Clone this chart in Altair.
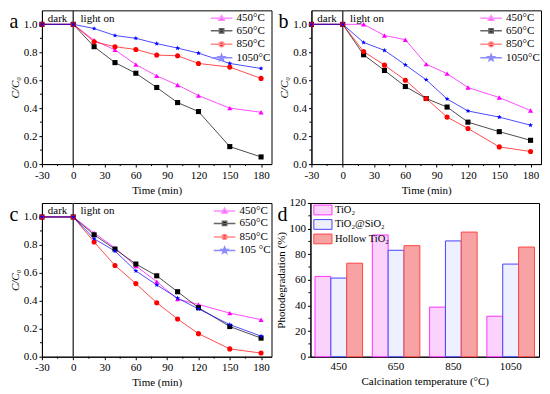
import math
import altair as alt
import pandas as pd

FONT = "Liberation Serif"

# ---------------- data ----------------
times = [-30, 0, 20, 40, 60, 80, 100, 120, 150, 180]
series_ab = ["450°C", "650°C", "850°C", "1050°C"]
series_c = ["450°C", "650°C", "850°C", "105 °C"]

a450 = [1.0, 1.0, 0.886, 0.817, 0.712, 0.631, 0.566, 0.49, 0.40, 0.371]
a650 = [1.0, 1.0, 0.84, 0.726, 0.65, 0.548, 0.44, 0.376, 0.125, 0.051]
a850 = [1.0, 1.0, 0.875, 0.84, 0.82, 0.78, 0.775, 0.72, 0.694, 0.613]
a1050 = [1.0, 1.0, 0.97, 0.92, 0.90, 0.862, 0.83, 0.794, 0.72, 0.684]

b450 = [1.0, 1.0, 1.0, 0.92, 0.89, 0.715, 0.647, 0.548, 0.476, 0.383]
b650 = [1.0, 1.0, 0.782, 0.67, 0.555, 0.469, 0.408, 0.30, 0.232, 0.17]
b850 = [1.0, 1.0, 0.805, 0.708, 0.60, 0.469, 0.336, 0.255, 0.123, 0.09]
b1050 = [1.0, 1.0, 0.87, 0.814, 0.71, 0.603, 0.466, 0.38, 0.336, 0.278]

c450 = [1.0, 1.0, 0.885, 0.779, 0.649, 0.537, 0.412, 0.374, 0.312, 0.265]
c650 = [1.0, 1.0, 0.872, 0.77, 0.663, 0.579, 0.465, 0.351, 0.216, 0.133]
c850 = [1.0, 1.0, 0.821, 0.653, 0.523, 0.386, 0.27, 0.165, 0.056, 0.026]
c1050 = [1.0, 1.0, 0.844, 0.756, 0.614, 0.514, 0.419, 0.342, 0.23, 0.147]

temps = ["450", "650", "850", "1050"]
materials = ["TiO₂", "TiO₂@SiO₂", "Hollow TiO₂"]
d_tio2 = [62.7, 95.0, 38.7, 31.6]
d_sio2 = [61.4, 83.1, 90.4, 72.3]
d_hollow = [73.0, 86.7, 97.3, 85.6]

x_ticks = [-30, 0, 30, 60, 90, 120, 150, 180]
x_minor = [-15, 15, 45, 75, 105, 135, 165]
y_ticks = [0.0, 0.2, 0.4, 0.6, 0.8, 1.0]
y_minor = [0.1, 0.3, 0.5, 0.7, 0.9]
d_y_ticks = [0, 20, 40, 60, 80, 100, 120]
d_y_minor = [10, 30, 50, 70, 90, 110]

# ---------------- styles ----------------
line_colors = ["#ff00ff", "#000000", "#ff0000", "#0000ff"]
legend_line_colors = ["#ff8cff", "#666666", "#ff8c8c", "#8c8cff"]


def star_path(R, r):
    pts = []
    for i in range(10):
        ang = -math.pi / 2 + i * math.pi / 5
        rad = R if i % 2 == 0 else r
        pts.append(f"{rad * math.cos(ang):.3f},{rad * math.sin(ang):.3f}")
    return "M" + "L".join(pts) + "Z"


plot_shapes = ["triangle-up", "square", "circle", star_path(1.0, 0.42)]
seg = "M-1.8,0H1.8"
legend_shapes = [
    seg + "M0,-0.45L0.45,0.33L-0.45,0.33Z",
    seg + "M-0.36,-0.36H0.36V0.36H-0.36Z",
    seg + "M-0.4,0A0.4,0.4,0,1,0,0.4,0A0.4,0.4,0,1,0,-0.4,0Z",
    seg + star_path(0.55, 0.23),
]

W, H = 230, 154


def line_panel(letter, labels, vals):
    rows = []
    for lab, v in zip(labels, vals):
        for t, y in zip(times, v):
            rows.append({"time": t, "value": y, "series": lab})
    df = pd.DataFrame(rows)

    x = alt.X("time:Q", scale=alt.Scale(domain=[-30, 190], nice=False, zero=False),
              axis=alt.Axis(values=x_ticks, title="Time (min)", labelFlush=False,
                            labelOverlap=False, titlePadding=4, labelExpr="datum.value",
                            titleFontWeight="normal"))
    y = alt.Y("value:Q", scale=alt.Scale(domain=[0, 1.1], nice=False),
              axis=alt.Axis(values=y_ticks, format=".1f", title="C/C₀",
                            titleFontStyle="italic", labelFlush=False, titlePadding=3,
                            titleFontWeight="normal"))
    color = alt.Color("series:N", scale=alt.Scale(domain=labels, range=line_colors), legend=None)

    base = alt.Chart(df).encode(x=x, y=y)
    lines = base.mark_line(strokeWidth=1, opacity=0.7).encode(color=color)
    pts = base.mark_point(filled=True, size=26, opacity=1).encode(
        color=color,
        shape=alt.Shape("series:N", scale=alt.Scale(domain=labels, range=plot_shapes), legend=None),
    )

    leg_cfg = alt.Legend(title=None, orient="top-right", offset=0, padding=1,
                         symbolSize=144, labelOffset=8, rowPadding=0.5,
                         symbolStrokeWidth=1.5, symbolOpacity=1,
                         labelFontSize=11, labelFont=FONT, labelColor="black")
    leg = alt.Chart(df).transform_filter("datum.time > 1000").mark_point(
        filled=True, opacity=1, strokeWidth=1.5).encode(
        shape=alt.Shape("series:N", scale=alt.Scale(domain=labels, range=legend_shapes), legend=leg_cfg),
        fill=alt.Fill("series:N", scale=alt.Scale(domain=labels, range=line_colors), legend=leg_cfg),
        stroke=alt.Stroke("series:N", scale=alt.Scale(domain=labels, range=legend_line_colors), legend=leg_cfg),
    )

    rule = alt.Chart(pd.DataFrame({"time": [0]})).mark_rule(color="#444444", strokeWidth=1.5).encode(
        x=x)
    mx = alt.Chart(pd.DataFrame({"time": x_minor})).mark_rule(color="black", strokeWidth=1).encode(
        x=x, y=alt.value(H), y2=alt.value(H + 2))
    my = alt.Chart(pd.DataFrame({"value": y_minor})).mark_rule(color="black", strokeWidth=1).encode(
        y=y, x=alt.value(0), x2=alt.value(-2))
    dark = alt.Chart(pd.DataFrame({"time": [-15], "s": ["dark"]})).mark_text(
        fontSize=11, font=FONT, align="center", baseline="middle", color="black").encode(
        x=x, y=alt.value(8.5), text="s:N")
    light = alt.Chart(pd.DataFrame({"time": [7], "s": ["light on"]})).mark_text(
        fontSize=11, font=FONT, align="left", baseline="middle", color="black").encode(
        x=x, y=alt.value(8.5), text="s:N")
    let = alt.Chart(pd.DataFrame({"s": [letter]})).mark_text(
        fontSize=20, font=FONT, align="center", baseline="middle", color="black").encode(
        x=alt.value(-28), y=alt.value(12), text="s:N")

    return alt.layer(rule, mx, my, lines, pts, dark, light, let, leg).resolve_scale(
        shape="independent", fill="independent", stroke="independent").properties(width=W, height=H)


pa = line_panel("a", series_ab, [a450, a650, a850, a1050])
pb = line_panel("b", series_ab, [b450, b650, b850, b1050])
pc = line_panel("c", series_c, [c450, c650, c850, c1050])

# ---------------- bar panel ----------------
rows = []
for mat, vals in zip(materials, [d_tio2, d_sio2, d_hollow]):
    for t, v in zip(temps, vals):
        rows.append({"temp": t, "material": mat, "value": v})
ddf = pd.DataFrame(rows)

bar_fill = ["#fbd2fb", "#eef0ff", "#f7a3a3"]
bar_stroke = ["#ff33ff", "#4444ff", "#ff4444"]
rect_path = "M-1.4,-0.75H1.4V0.75H-1.4Z"
d_leg = alt.Legend(title=None, orient="none", legendX=5.5, legendY=0, padding=0,
                   symbolType=rect_path, symbolSize=169, labelOffset=5, rowPadding=0.5,
                   symbolStrokeWidth=1, symbolOpacity=1, labelFontSize=10.5,
                   labelFont=FONT, labelColor="black")

dy = alt.Y("value:Q", scale=alt.Scale(domain=[0, 120], nice=False),
           axis=alt.Axis(values=d_y_ticks, title="Photodegradation (%)", labelFlush=False,
                         titlePadding=2, titleFontWeight="normal"))
bars = alt.Chart(ddf).mark_bar(strokeWidth=1).encode(
    x=alt.X("temp:N", sort=temps, scale=alt.Scale(paddingInner=0.17, paddingOuter=0.08),
            axis=alt.Axis(title="Calcination temperature (°C)", labelAngle=0, ticks=False,
                          labelPadding=4, titlePadding=4, titleFontWeight="normal")),
    xOffset=alt.XOffset("material:N", sort=materials, scale=alt.Scale(domain=materials, paddingInner=0)),
    y=dy,
    fill=alt.Fill("material:N", scale=alt.Scale(domain=materials, range=bar_fill), legend=d_leg),
    stroke=alt.Stroke("material:N", scale=alt.Scale(domain=materials, range=bar_stroke), legend=d_leg),
)
d_my = alt.Chart(pd.DataFrame({"value": d_y_minor})).mark_rule(color="black", strokeWidth=1).encode(
    y=dy, x=alt.value(0), x2=alt.value(-2))
d_let = alt.Chart(pd.DataFrame({"s": ["d"]})).mark_text(
    fontSize=20, font=FONT, align="center", baseline="middle", color="black").encode(
    x=alt.value(-28), y=alt.value(12), text="s:N")
pd_ = alt.layer(bars, d_my, d_let).properties(width=229, height=H)

indep = dict(color="independent", fill="independent", stroke="independent", shape="independent")

row1 = alt.hconcat(pa, pb, spacing=5).resolve_scale(**indep).resolve_legend(**indep)
row2 = alt.hconcat(pc, pd_, spacing=3).resolve_scale(**indep).resolve_legend(**indep)

chart = alt.vconcat(row1, row2, spacing=0).resolve_scale(**indep).resolve_legend(**indep).properties(
    padding=0).configure(font=FONT).configure_view(
    stroke="black", strokeWidth=1
).configure_axis(
    labelFont=FONT, titleFont=FONT, labelFontSize=11, titleFontSize=11,
    titleFontWeight="normal", labelColor="black", titleColor="black",
    domainColor="black", tickColor="black", tickSize=3, grid=False, labelPadding=2,
    labelOverlap=False, labelFlush=False,
)

chart.save("out.html", embed_options={"renderer": "svg", "actions": False})
